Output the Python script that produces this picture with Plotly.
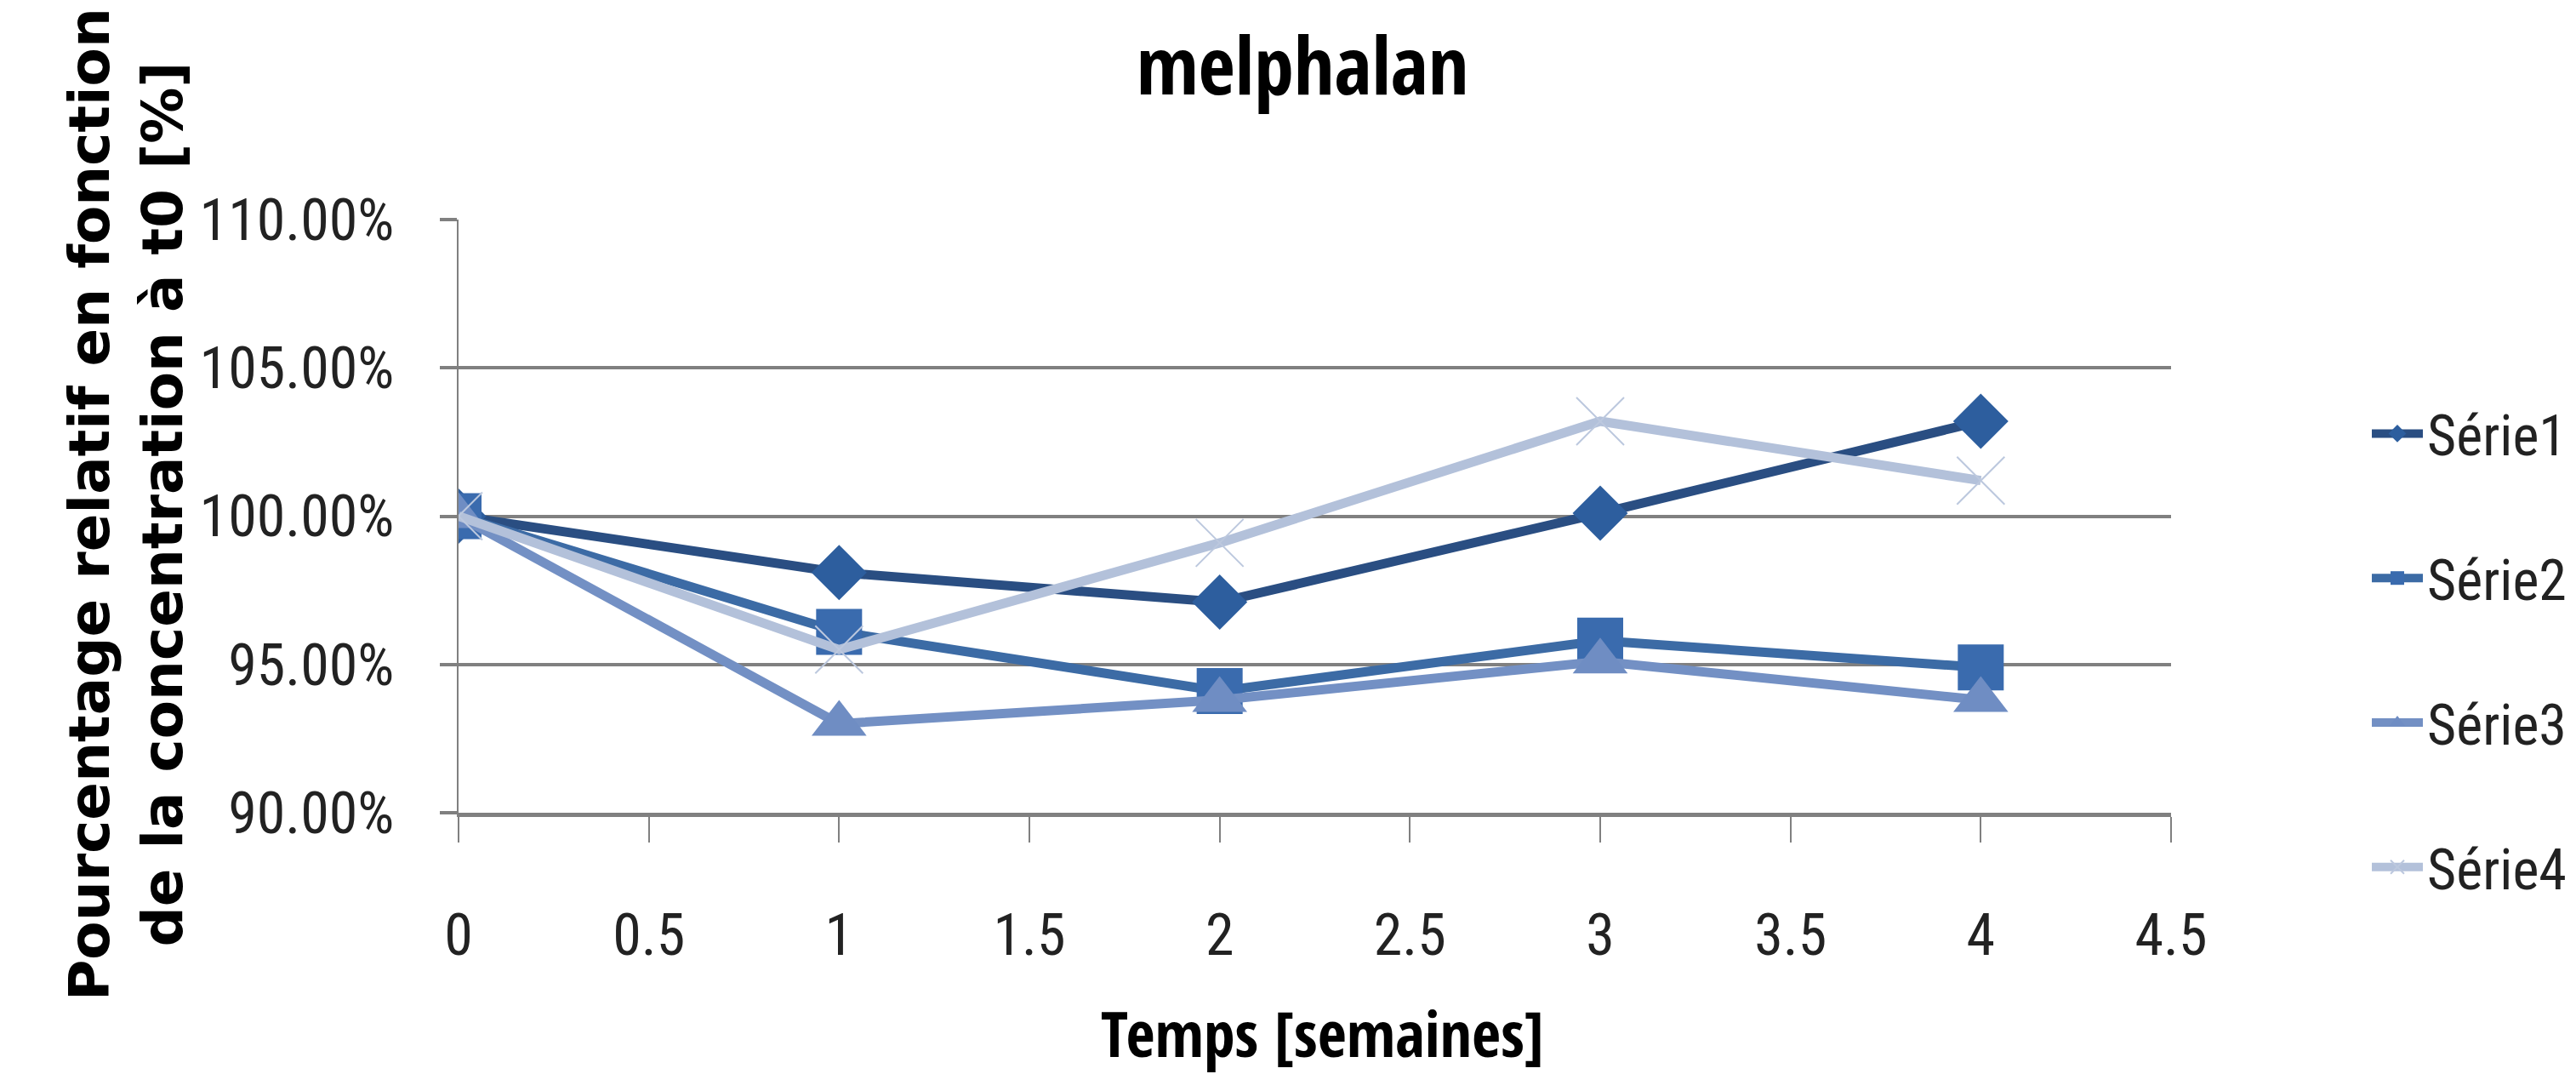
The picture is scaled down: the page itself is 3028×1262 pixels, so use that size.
import plotly.graph_objects as go

# ---- data ----
weeks = [0, 1, 2, 3, 4]
serie1 = [1.000, 0.981, 0.971, 1.001, 1.032]
serie2 = [1.000, 0.961, 0.941, 0.958, 0.949]
serie3 = [1.000, 0.930, 0.938, 0.951, 0.938]
serie4 = [1.000, 0.955, 0.991, 1.032, 1.012]
series_names = ["Série1", "Série2", "Série3", "Série4"]

title_text = "melphalan"
x_title = "Temps [semaines]"
y_title = "Pourcentage relatif en fonction<br>de la concentration à t0 [%]"

COND = "Roboto Condensed, DejaVu Sans Condensed, sans-serif"
COND_BOLD = "Open Sans Condensed, Roboto Condensed, sans-serif"
WIDE_BOLD = "DejaVu Sans, Verdana, sans-serif"

styles = [
    dict(line_color="#2A4E82", marker=dict(symbol="diamond", size=50, color="#2D5E9E")),
    dict(line_color="#3C6BA5", marker=dict(symbol="square", size=54, color="#3A6BAE")),
    dict(line_color="#7390C4", marker=dict(symbol="triangle-up", size=56, color="#6F8DC3")),
    dict(line_color="#B3C1DA", marker=dict(symbol="x-thin", size=56, color="#BCC8DE",
                                           line=dict(width=2, color="#BCC8DE"))),
]

fig = go.Figure()
for name, ys, st in zip(series_names, [serie1, serie2, serie3, serie4], styles):
    fig.add_trace(go.Scatter(
        x=weeks, y=ys, name=name, mode="lines+markers",
        line=dict(color=st["line_color"], width=11),
        marker=st["marker"], legendgroup=name,
    ))

W, H = 3028, 1262
L, R, T, B = 531, 484, 250, 315
pw = W - L - R
ph = H - T - B

fig.update_layout(
    width=W, height=H,
    margin=dict(l=L, r=R, t=T, b=B),
    paper_bgcolor="white", plot_bgcolor="white",
    title=dict(text=title_text, x=1523 / W, xanchor="center",
               y=1 - 70 / H, yanchor="middle", yref="container",
               font=dict(family=COND_BOLD, size=94, color="#000000", weight="bold")),
    showlegend=True,
    legend=dict(x=(2775 - L) / pw, xanchor="left", y=(947 - 452) / ph, yanchor="top",
                traceorder="grouped", tracegroupgap=81, itemwidth=60,
                font=dict(family=COND, size=66, color="#222222"),
                bgcolor="rgba(0,0,0,0)"),
    xaxis=dict(range=[0, 4.5], tick0=0, dtick=0.5, showgrid=False, zeroline=False,
               showline=True, linecolor="#808080", linewidth=5,
               ticks="outside", ticklen=30, tickwidth=2, tickcolor="#808080",
               ticklabelstandoff=50,
               tickfont=dict(family=COND, size=68, color="#222222")),
    yaxis=dict(range=[0.9, 1.1], tick0=0.9, dtick=0.05, tickformat=".2%",
               showgrid=True, gridcolor="#808080", gridwidth=4, zeroline=False,
               showline=True, linecolor="#808080", linewidth=2,
               ticks="outside", ticklen=20, tickwidth=4, tickcolor="#808080",
               ticklabelstandoff=40,
               tickfont=dict(family=COND, size=68, color="#222222")),
    annotations=[
        dict(text=y_title, textangle=-90, xref="paper", yref="paper",
             x=(140 - L) / pw, y=(947 - 585) / ph, xanchor="center", yanchor="middle",
             showarrow=False,
             font=dict(family=WIDE_BOLD, size=66, color="#000000", weight="bold")),
        dict(text=x_title, xref="paper", yref="paper",
             x=(1546 - L) / pw, y=(947 - 1205) / ph, xanchor="center", yanchor="middle",
             showarrow=False,
             font=dict(family=COND_BOLD, size=74, color="#000000", weight="bold")),
    ],
)

fig.write_html("out.html")
